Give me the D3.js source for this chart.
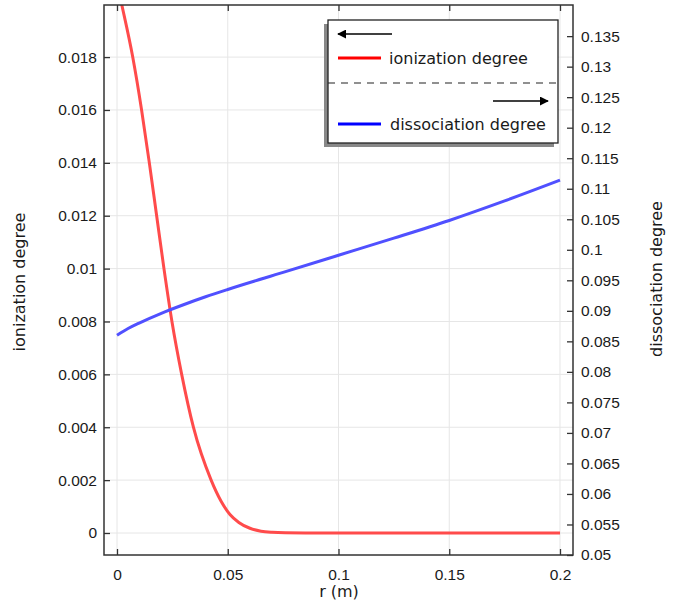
<!DOCTYPE html>
<html>
<head>
<meta charset="utf-8">
<script src="https://cdn.jsdelivr.net/npm/d3@7"></script>
<style>
  body { margin: 0; background: #fff; }
  svg { display: block; font-family: "DejaVu Sans", sans-serif; }
  .tick text { font-size: 15.5px; fill: #1a1a1a; }
  .tick line { stroke: #333; }
</style>
</head>
<body>
<svg id="chart" width="676" height="605"></svg>
<script>
// valori
const rTicks = [0, 0.05, 0.1, 0.15, 0.2];
const ionTicks = [0, 0.002, 0.004, 0.006, 0.008, 0.01, 0.012, 0.014, 0.016, 0.018];
const dissTicks = [0.05, 0.055, 0.06, 0.065, 0.07, 0.075, 0.08, 0.085, 0.09, 0.095,
                   0.1, 0.105, 0.11, 0.115, 0.12, 0.125, 0.13, 0.135];

const ionR = [0, 0.0021, 0.0071, 0.0111, 0.0146, 0.0179, 0.0212, 0.0248, 0.0292, 0.0345,
              0.0425, 0.047, 0.051, 0.055, 0.06, 0.065, 0.07, 0.076, 0.085, 0.1, 0.15, 0.2];
const ionVal = [0.0208, 0.0200, 0.018, 0.016, 0.014, 0.012, 0.010, 0.008, 0.006, 0.004,
                0.002, 0.0012, 0.0007, 0.0004, 0.00018, 0.00007, 0.000025, 0.000006, 0.000001, 0, 0, 0];

const dissR = [0, 0.005, 0.01, 0.02, 0.03, 0.04, 0.05, 0.075, 0.1, 0.125, 0.15, 0.175, 0.2];
const dissVal = [0.0860, 0.0871, 0.0880, 0.0896, 0.0910, 0.0923, 0.0935, 0.0963, 0.0991,
                 0.1019, 0.1048, 0.1080, 0.1114];

const plotL = 104, plotR = 573, plotT = 5, plotB = 555;
const svg = d3.select("#chart");

const x = d3.scaleLinear().domain([-0.00587, 0.20587]).range([plotL, plotR]);
const yL = d3.scaleLinear().domain([-0.000832, 0.01997]).range([plotB, plotT]);
const yR = d3.scaleLinear().domain([0.05, 0.1401]).range([plotB, plotT]);
const fmt = d3.format("~g");

// griglia
const grid = svg.append("g").attr("stroke", "#e6e6e6").attr("stroke-width", 1);
grid.selectAll(".gx").data(rTicks).enter().append("line")
    .attr("x1", d => x(d)).attr("x2", d => x(d))
    .attr("y1", plotT).attr("y2", plotB);
grid.selectAll(".gy").data(ionTicks).enter().append("line")
    .attr("x1", plotL).attr("x2", plotR)
    .attr("y1", d => yL(d)).attr("y2", d => yL(d));

// curve
svg.append("clipPath").attr("id", "clip").append("rect")
    .attr("x", plotL).attr("y", plotT).attr("width", plotR - plotL).attr("height", plotB - plotT);

const ionData = ionR.map((r, i) => [r, ionVal[i]]);
const dissData = dissR.map((r, i) => [r, dissVal[i]]);

svg.append("path").datum(ionData)
    .attr("clip-path", "url(#clip)")
    .attr("fill", "none").attr("stroke", "#ff4b4b").attr("stroke-width", 3)
    .attr("d", d3.line().x(d => x(d[0])).y(d => yL(d[1])).curve(d3.curveMonotoneX));

svg.append("path").datum(dissData)
    .attr("clip-path", "url(#clip)")
    .attr("fill", "none").attr("stroke", "#5050ff").attr("stroke-width", 3)
    .attr("d", d3.line().x(d => x(d[0])).y(d => yR(d[1])).curve(d3.curveMonotoneX));

// assi
svg.append("g").attr("transform", "translate(0," + plotB + ")")
    .call(d3.axisBottom(x).tickValues(rTicks).tickFormat(fmt).tickSize(-6).tickPadding(14))
    .call(g => g.select(".domain").remove());
svg.append("g").attr("transform", "translate(0," + plotT + ")")
    .call(d3.axisTop(x).tickValues(rTicks).tickFormat("").tickSize(-6))
    .call(g => g.select(".domain").remove());
svg.append("g").attr("transform", "translate(" + plotL + ",0)")
    .call(d3.axisLeft(yL).tickValues(ionTicks).tickFormat(fmt).tickSize(-6).tickPadding(7))
    .call(g => g.select(".domain").remove());
svg.append("g").attr("transform", "translate(" + plotR + ",0)")
    .call(d3.axisRight(yR).tickValues(dissTicks).tickFormat(fmt).tickSize(-6).tickPadding(8))
    .call(g => g.select(".domain").remove());

svg.selectAll(".tick line").attr("stroke-width", 1.3);

svg.append("rect")
    .attr("x", plotL).attr("y", plotT).attr("width", plotR - plotL).attr("height", plotB - plotT)
    .attr("fill", "none").attr("stroke", "#333").attr("stroke-width", 1.5);

// titoli
svg.append("text").attr("x", 339).attr("y", 597).attr("text-anchor", "middle")
    .attr("font-size", 16).attr("fill", "#1a1a1a").text("r (m)");
svg.append("text").attr("transform", "translate(25,282) rotate(-90)").attr("text-anchor", "middle")
    .attr("font-size", 16).attr("fill", "#1a1a1a").text("ionization degree");
svg.append("text").attr("transform", "translate(662,279) rotate(-90)").attr("text-anchor", "middle")
    .attr("font-size", 16).attr("fill", "#1a1a1a").text("dissociation degree");

// legenda
svg.append("defs").append("marker")
    .attr("id", "arrow").attr("viewBox", "0 0 10 10").attr("refX", 9).attr("refY", 5)
    .attr("markerWidth", 9).attr("markerHeight", 9).attr("markerUnits", "userSpaceOnUse")
    .attr("orient", "auto")
    .append("path").attr("d", "M0,0L10,5L0,10Z").attr("fill", "#000");

const lg = svg.append("g");
lg.append("rect").attr("x", 324).attr("y", 24).attr("width", 230).attr("height", 123).attr("fill", "#888");
lg.append("rect").attr("x", 328).attr("y", 20).attr("width", 230).attr("height", 123)
    .attr("fill", "#fff").attr("stroke", "#222").attr("stroke-width", 1.3);
lg.append("line").attr("x1", 392).attr("x2", 338).attr("y1", 34).attr("y2", 34)
    .attr("stroke", "#000").attr("stroke-width", 1.3).attr("marker-end", "url(#arrow)");
lg.append("line").attr("x1", 338).attr("x2", 381).attr("y1", 58).attr("y2", 58)
    .attr("stroke", "#f00").attr("stroke-width", 3);
lg.append("text").attr("x", 389).attr("y", 63.5).attr("font-size", 16).attr("fill", "#1a1a1a")
    .text("ionization degree");
lg.append("line").attr("x1", 328).attr("x2", 558).attr("y1", 83).attr("y2", 83)
    .attr("stroke", "#222").attr("stroke-width", 1.2).attr("stroke-dasharray", "7,6");
lg.append("line").attr("x1", 493).attr("x2", 548).attr("y1", 101).attr("y2", 101)
    .attr("stroke", "#000").attr("stroke-width", 1.3).attr("marker-end", "url(#arrow)");
lg.append("line").attr("x1", 338).attr("x2", 381).attr("y1", 124).attr("y2", 124)
    .attr("stroke", "#00f").attr("stroke-width", 3);
lg.append("text").attr("x", 390).attr("y", 129.5).attr("font-size", 16).attr("fill", "#1a1a1a")
    .text("dissociation degree");
</script>
</body>
</html>
